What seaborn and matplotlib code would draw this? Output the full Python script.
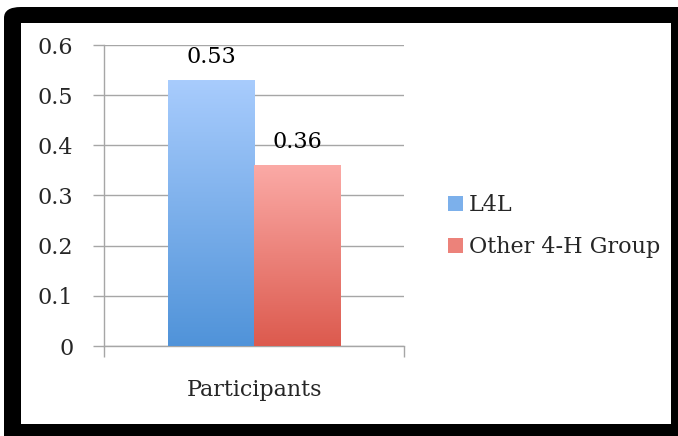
import matplotlib
matplotlib.use("Agg")
import matplotlib.pyplot as plt
from matplotlib.patches import FancyBboxPatch, Rectangle, Patch
from matplotlib.colors import to_rgb
import numpy as np
import pandas as pd
import seaborn as sns

# data
categories = ["Participants"]
groups = ["L4L", "Other 4-H Group"]
values = [0.53, 0.36]
value_labels = ["0.53", "0.36"]

top_colors = {"L4L": "#a8ccfd", "Other 4-H Group": "#fbaaa6"}
bottom_colors = {"L4L": "#5093d9", "Other 4-H Group": "#dc5a4e"}
mid_colors = {"L4L": "#7cb0eb", "Other 4-H Group": "#ec827a"}
grid_gray = "#a6a6a6"

df = pd.DataFrame({
    "category": categories * len(groups),
    "group": groups,
    "value": values,
})

sns.set_style("white")
plt.rcParams["font.family"] = ["DejaVu Serif"]
FS = 16

W, H = 678, 436
fig = plt.figure(figsize=(W / 100, H / 100), dpi=100)
fig.patch.set_facecolor("white")

# black frame (rounded only at top-left, other corners run off the canvas)
frame = FancyBboxPatch((4 / W, -0.3), 1.5, 0.3 + 1 - 7 / H,
                       boxstyle="round,pad=0,rounding_size=0.025",
                       transform=fig.transFigure, facecolor="black",
                       edgecolor="none", zorder=0)
fig.patches.append(frame)
inner = Rectangle((21 / W, 12 / H), 650 / W, 401 / H, transform=fig.transFigure,
                  facecolor="white", edgecolor="none", zorder=0.5)
fig.patches.append(inner)

ax = fig.add_axes([104 / W, (H - 346) / H, 300 / W, 301 / H])
ax.set_zorder(2)
ax.patch.set_alpha(0)

sns.barplot(data=df, x="category", y="value", hue="group", palette=mid_colors,
            width=0.574, dodge=True, legend=False, ax=ax, zorder=3,
            edgecolor="none", linewidth=0)

# vertical gradient in each bar
for container, g in zip(ax.containers, groups):
    for bar in container:
        x0, w, h = bar.get_x(), bar.get_width(), bar.get_height()
        t = np.linspace(0, 1, 256)[:, None, None]
        c_top = np.array(to_rgb(top_colors[g]))[None, None, :]
        c_bot = np.array(to_rgb(bottom_colors[g]))[None, None, :]
        grad = c_top * (1 - t) + c_bot * t
        im = ax.imshow(grad, extent=[x0, x0 + w, 0, h], aspect="auto",
                       origin="upper", zorder=3.5, interpolation="bilinear")
        im.set_clip_path(bar)
ax.set_xlim(-0.5, 0.5)
ax.set_ylim(0, 0.6)
ax.set_aspect("auto")

for container, lab in zip(ax.containers, value_labels):
    ax.bar_label(container, labels=[lab], padding=9, fontsize=FS, color="black")

ax.set_yticks([0, 0.1, 0.2, 0.3, 0.4, 0.5, 0.6])
ax.set_yticklabels(["0", "0.1", "0.2", "0.3", "0.4", "0.5", "0.6"])
ax.yaxis.grid(True, color=grid_gray, linewidth=1)
ax.set_axisbelow(True)
ax.tick_params(axis="y", length=8, width=1, color=grid_gray, labelsize=FS,
               pad=14, left=True, direction="out")
ax.tick_params(axis="x", which="major", length=0, labelsize=FS, pad=24)
ax.set_xticks([-0.5, 0.5], minor=True)
ax.tick_params(axis="x", which="minor", length=8, width=1, color=grid_gray,
               bottom=True, direction="out")
ax.set_xlabel("")
ax.set_ylabel("")
for side in ["top", "right"]:
    ax.spines[side].set_visible(False)
for side in ["left", "bottom"]:
    ax.spines[side].set_color(grid_gray)
    ax.spines[side].set_linewidth(1)

handles = [Patch(facecolor=mid_colors[g], edgecolor="none", label=g) for g in groups]
leg = fig.legend(handles=handles, loc="center left",
                 bbox_to_anchor=(437 / W, 1 - 226 / H), frameon=False,
                 fontsize=FS, handlelength=0.65, handleheight=0.65,
                 handletextpad=0.3, labelspacing=0.9, borderpad=0)
leg.set_zorder(5)

fig.savefig("out.png", dpi=100, facecolor="white")
